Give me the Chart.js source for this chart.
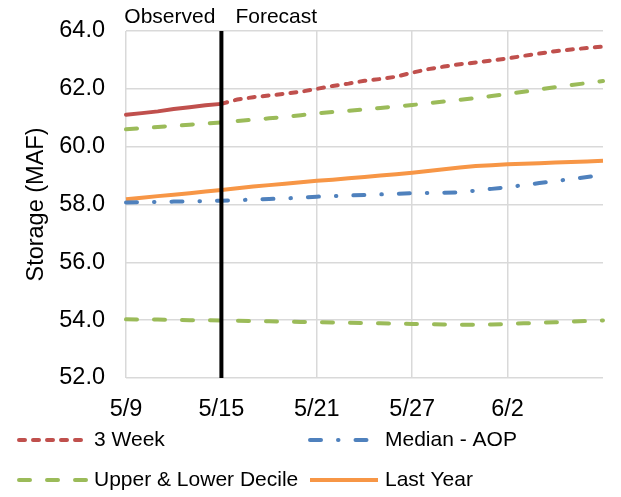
<!DOCTYPE html>
<html>
<head>
<meta charset="utf-8">
<script src="https://cdn.jsdelivr.net/npm/chart.js@4/dist/chart.umd.min.js"></script>
<style>
  html, body { margin: 0; padding: 0; background: #fff; }
  #wrap { width: 621px; height: 497px; position: relative; }
</style>
</head>
<body>
<div id="wrap"><canvas id="storageChart"></canvas></div>
<script>
// days 5/9 .. 6/8
const dates = ['5/9','5/10','5/11','5/12','5/13','5/14','5/15','5/16','5/17','5/18','5/19','5/20','5/21','5/22','5/23','5/24',
  '5/25','5/26','5/27','5/28','5/29','5/30','5/31','6/1','6/2','6/3','6/4','6/5','6/6','6/7','6/8'];
const shownTicks = ['5/9','5/15','5/21','5/27','6/2'];
const yTicks = [52, 54, 56, 58, 60, 62, 64];

const threeWeek = [61.10, 61.16, 61.22, 61.30, 61.36, 61.43, 61.48, 61.63, 61.71, 61.77, 61.83, 61.90, 62.00, 62.10, 62.18, 62.28,
  62.34, 62.42, 62.56, 62.68, 62.77, 62.85, 62.91, 62.98, 63.05, 63.14, 63.22, 63.30, 63.36, 63.41, 63.46];
const medianAop = [58.07, 58.08, 58.09, 58.10, 58.11, 58.12, 58.13, 58.15, 58.17, 58.19, 58.21, 58.24, 58.27, 58.29, 58.31, 58.33,
  58.35, 58.37, 58.39, 58.40, 58.41, 58.42, 58.48, 58.54, 58.60, 58.67, 58.74, 58.81, 58.88, 58.95, 59.03];
const upperDecile = [60.60, 60.64, 60.68, 60.72, 60.76, 60.80, 60.84, 60.89, 60.93, 60.98, 61.03, 61.09, 61.15, 61.20, 61.24, 61.29,
  61.34, 61.39, 61.44, 61.50, 61.56, 61.62, 61.68, 61.75, 61.82, 61.90, 61.98, 62.06, 62.13, 62.20, 62.27];
const lowerDecile = [54.03, 54.02, 54.02, 54.01, 54.00, 54.00, 53.99, 53.98, 53.97, 53.96, 53.95, 53.94, 53.93, 53.92, 53.91, 53.90,
  53.89, 53.88, 53.87, 53.86, 53.85, 53.84, 53.84, 53.85, 53.87, 53.89, 53.91, 53.93, 53.95, 53.97, 53.99];
const lastYear = [58.18, 58.23, 58.29, 58.34, 58.39, 58.45, 58.50, 58.56, 58.62, 58.67, 58.72, 58.77, 58.82, 58.86, 58.91, 58.95,
  59.00, 59.05, 59.10, 59.16, 59.22, 59.28, 59.33, 59.36, 59.39, 59.41, 59.43, 59.45, 59.47, 59.49, 59.51];

const forecastStart = '5/15';
const legendLabels = ['3 Week', 'Median - AOP', 'Upper & Lower Decile', 'Last Year'];

const RED = '#C0504D', BLUE = '#4F81BD', GREEN = '#9BBB59', ORANGE = '#F79646';
const DOT = [6, 8];
const DASH = [11, 17];
const DASHDOT = [11, 17, 0.5, 17];
const LW = 4;
const FONT = "'Liberation Sans', Arial, sans-serif";

Chart.defaults.font.family = FONT;
Chart.defaults.color = '#000';

const splitIdx = dates.indexOf(forecastStart);

// Observed / Forecast labels and the 2x2 legend
const overlay = {
  id: 'overlay',
  afterDraw(chart) {
    const ctx = chart.ctx;
    const xs = chart.scales.x;
    const xDiv = xs.getPixelForValue(splitIdx);
    ctx.save();
    ctx.fillStyle = '#000';
    ctx.font = '21px ' + FONT;
    ctx.textBaseline = 'middle';
    ctx.textAlign = 'right';
    ctx.fillText('Observed', xDiv - 6, 17);
    ctx.textAlign = 'left';
    ctx.fillText('Forecast', xDiv + 14, 17);

    const styles = [
      { color: RED, dash: DOT },
      { color: BLUE, dash: DASHDOT },
      { color: GREEN, dash: DASH },
      { color: ORANGE, dash: [] }
    ];
    const colX = [17, 308];
    const rowY = [440, 480];
    ctx.font = '21px ' + FONT;
    legendLabels.forEach((label, i) => {
      const x = colX[i % 2];
      const y = rowY[Math.floor(i / 2)];
      const st = styles[i];
      ctx.beginPath();
      ctx.strokeStyle = st.color;
      ctx.lineWidth = LW;
      ctx.lineCap = st.dash.length ? 'round' : 'butt';
      ctx.setLineDash(st.dash);
      ctx.moveTo(x + 2, y);
      ctx.lineTo(x + 70, y);
      ctx.stroke();
      ctx.setLineDash([]);
      ctx.fillStyle = '#000';
      ctx.textAlign = 'left';
      ctx.fillText(label, x + 77, y);
    });
    ctx.restore();
  }
};

const lineBase = { borderWidth: LW, pointRadius: 0, tension: 0, fill: false, order: 1 };

new Chart(document.getElementById('storageChart'), {
  type: 'line',
  data: {
    labels: dates,
    datasets: [
      {
        label: 'Divider',
        data: [{ x: forecastStart, y: yTicks[0] }, { x: forecastStart, y: yTicks[yTicks.length - 1] }],
        borderColor: '#000', borderWidth: 4, pointRadius: 0, order: 0
      },
      {
        ...lineBase, label: legendLabels[0], data: threeWeek, borderColor: RED, borderCapStyle: 'round',
        segment: { borderDash: c => c.p0DataIndex >= splitIdx ? DOT : [] }
      },
      { ...lineBase, label: legendLabels[2], data: upperDecile, borderColor: GREEN, borderDash: DASH, borderCapStyle: 'round' },
      { ...lineBase, label: 'Lower Decile', data: lowerDecile, borderColor: GREEN, borderDash: DASH, borderCapStyle: 'round' },
      { ...lineBase, label: legendLabels[1], data: medianAop, borderColor: BLUE, borderDash: DASHDOT, borderCapStyle: 'round' },
      { ...lineBase, label: legendLabels[3], data: lastYear, borderColor: ORANGE }
    ]
  },
  options: {
    responsive: true,
    maintainAspectRatio: false,
    animation: false,
    layout: { padding: { top: 31, right: 18, bottom: 76, left: 0 } },
    plugins: {
      legend: { display: false },
      tooltip: { enabled: false }
    },
    scales: {
      x: {
        type: 'category',
        offset: false,
        border: { display: false },
        grid: {
          drawTicks: false,
          lineWidth: 1.5,
          color: c => (shownTicks.includes(dates[c.index]) ? '#D9D9D9' : 'rgba(0,0,0,0)')
        },
        ticks: {
          autoSkip: false,
          maxRotation: 0,
          padding: 17,
          font: { size: 23.5 },
          callback: (v, i) => (shownTicks.includes(dates[i]) ? dates[i] : '')
        },
        afterFit: s => { s.height = 43; }
      },
      y: {
        min: yTicks[0],
        max: yTicks[yTicks.length - 1],
        border: { display: false },
        grid: { drawTicks: false, lineWidth: 1.5, color: '#D9D9D9' },
        ticks: {
          stepSize: 2,
          padding: 21,
          font: { size: 23.5, lineHeight: 0.5 },
          callback: v => v.toFixed(1)
        },
        title: {
          display: true,
          text: 'Storage (MAF)',
          font: { size: 23.5 },
          padding: { top: 22, bottom: 0 }
        },
        afterFit: s => { s.width = 126; }
      }
    }
  },
  plugins: [overlay]
});
</script>
</body>
</html>
